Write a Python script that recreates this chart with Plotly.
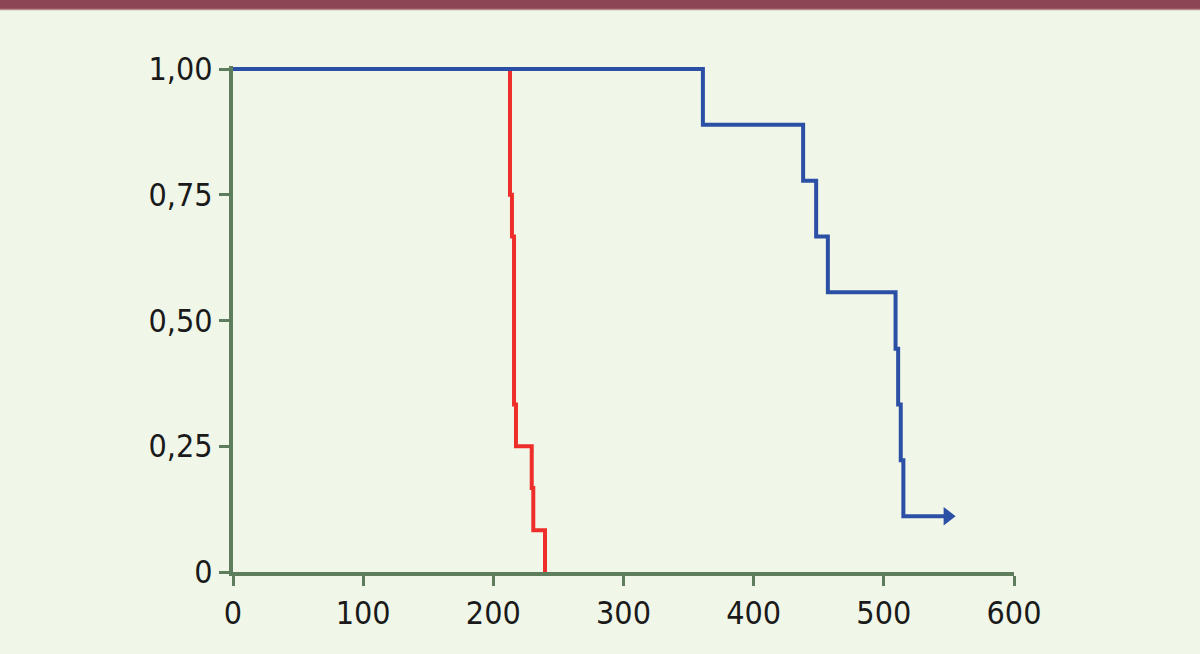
import plotly.graph_objects as go

# Kaplan-Meier style survival steps
red_t = [0, 212.8, 214.3, 215.9, 217.4, 229.5, 230.7, 239.7]
red_s = [1.0, 0.75, 0.667, 0.333, 0.25, 0.167, 0.083, 0.0]

blue_t = [0, 361, 438, 448, 457, 509, 511, 513, 515, 549]
blue_s = [1.0, 0.889, 0.778, 0.667, 0.556, 0.444, 0.333, 0.222, 0.111, 0.111]
blue_arrow_t = [549]
blue_arrow_s = [0.111]

x_ticks = [0, 100, 200, 300, 400, 500, 600]
y_ticks = [0, 0.25, 0.5, 0.75, 1.0]
y_labels = ["0", "0,25", "0,50", "0,75", "1,00"]

RED = "#ee2e2a"
BLUE = "#2c4fa6"
AXIS = "#5e7d5c"
BG = "#f0f7e9"

fig = go.Figure()
fig.add_trace(go.Scatter(x=red_t, y=red_s, mode="lines", line=dict(color=RED, width=4, shape="hv"),
                         cliponaxis=False, showlegend=False, hoverinfo="skip"))
fig.add_trace(go.Scatter(x=blue_t, y=blue_s, mode="lines", line=dict(color=BLUE, width=4, shape="hv"),
                         cliponaxis=False, showlegend=False, hoverinfo="skip"))
fig.add_trace(go.Scatter(x=blue_arrow_t, y=blue_arrow_s, mode="markers",
                         marker=dict(symbol="triangle-right", size=16, color=BLUE, line=dict(width=0)),
                         cliponaxis=False, showlegend=False, hoverinfo="skip"))

font = dict(family="'Liberation Sans Narrow', 'DejaVu Sans Condensed', 'Arial Narrow', sans-serif",
            size=32, color="#1a1a1a")

# y range padded slightly so the top step line is not clipped; 1.0 stays at same pixel
y_top = 1.0 + 3 / 503
T_MARGIN = 66
B_MARGIN = 82
plot_h = 654 - T_MARGIN - B_MARGIN


def paper_y(px):
    return 1 + (T_MARGIN - px) / plot_h


fig.update_layout(
    width=1200, height=654,
    margin=dict(l=233, r=186, t=T_MARGIN, b=B_MARGIN),
    paper_bgcolor=BG, plot_bgcolor=BG,
    xaxis=dict(range=[0, 600], tickvals=x_ticks, ticktext=[str(v) for v in x_ticks],
               showgrid=False, zeroline=False, showline=True, linecolor=AXIS, linewidth=4,
               ticks="outside", ticklen=10, tickwidth=3, tickcolor=AXIS, tickfont=font,
               fixedrange=True),
    yaxis=dict(range=[0, y_top], tickvals=y_ticks, ticktext=y_labels,
               showgrid=False, zeroline=False, showline=True, linecolor=AXIS, linewidth=4,
               ticks="outside", ticklen=10, tickwidth=3, tickcolor=AXIS, tickfont=font,
               fixedrange=True),
    shapes=[
        dict(type="rect", xref="paper", yref="paper", x0=-0.31, x1=1.25,
             y0=paper_y(9), y1=paper_y(-2),
             fillcolor="#8c4552", line=dict(width=0), layer="above"),
        dict(type="line", xref="paper", yref="paper", x0=-0.31, x1=1.25,
             y0=paper_y(9.5), y1=paper_y(9.5),
             line=dict(color="#b98a90", width=1.5), layer="above"),
    ],
)

fig.write_html("out.html", config={"displayModeBar": False},
               post_script="document.body.style.margin='0';document.body.style.overflow='hidden';")
